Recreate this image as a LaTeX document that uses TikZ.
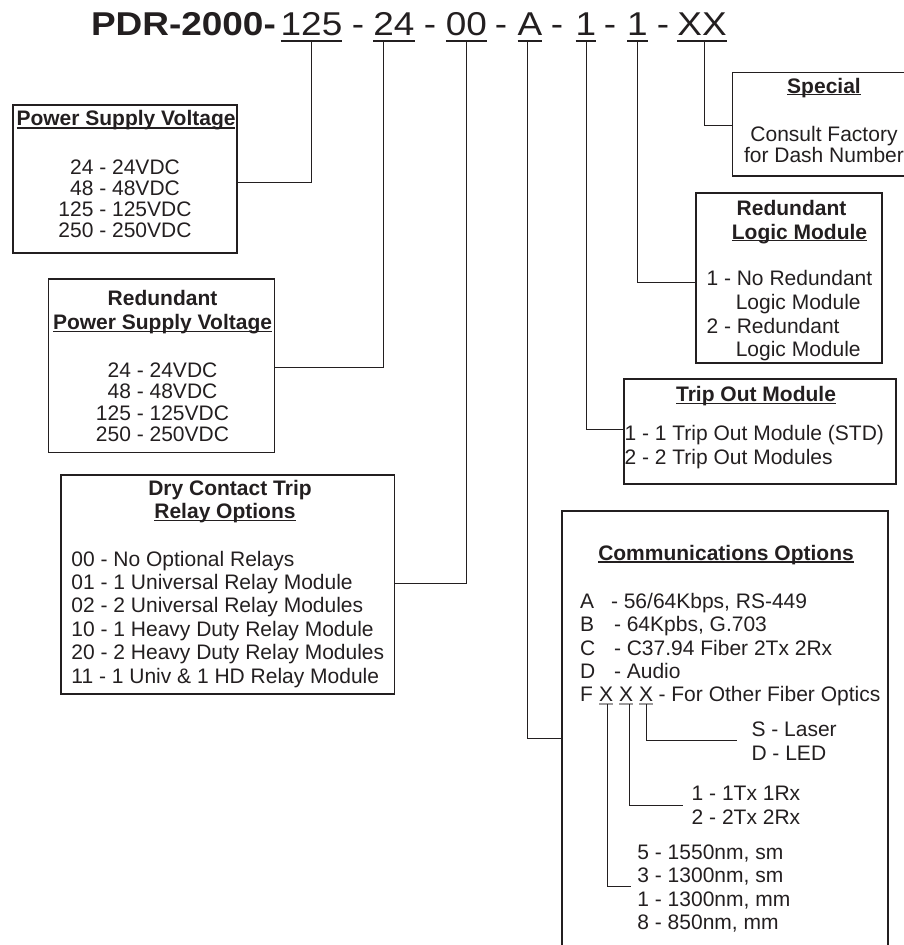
\documentclass[tikz,border=0pt]{standalone}
\usepackage{fontspec}
\setmainfont{Liberation Sans}
\definecolor{ink}{RGB}{35,31,32}
\begin{document}
\begin{tikzpicture}[x=1pt,y=-1pt,
  every node/.style={inner sep=0pt, outer sep=0pt, text=ink, font=\fontsize{21}{24}\selectfont},
  box/.style={draw=ink, line width=1.2pt, rectangle},
  conn/.style={draw=ink, line width=1pt},
  hd/.style={font=\fontsize{21}{24}\selectfont\bfseries, anchor=base},
  ln/.style={anchor=base west},
  cl/.style={anchor=base},
  ttl/.style={font=\fontsize{33}{36}\selectfont, anchor=base},
  tul/.style={draw=ink, line width=2pt},
  hul/.style={draw=ink, line width=1.3pt},
  xul/.style={draw=ink!45, line width=1.2pt}
]
\useasboundingbox (0,0) rectangle (904,945);

% ---------- title ----------
\node[font=\fontsize{33}{36}\selectfont\bfseries, anchor=base west] (tpdr) at (91,35) {\scalebox{1.12}[1]{PDR-2000-}};
\node[ttl] (t125) at (311.5,35) {\scalebox{1.12}[1]{125}};
\node[ttl] (d1)   at (358,35)   {\scalebox{1.12}[1]{-}};
\node[ttl] (t24)  at (394,35)   {\scalebox{1.12}[1]{24}};
\node[ttl] (d2)   at (430,35)   {\scalebox{1.12}[1]{-}};
\node[ttl] (t00)  at (466.5,35) {\scalebox{1.12}[1]{00}};
\node[ttl] (d3)   at (501,35)   {\scalebox{1.12}[1]{-}};
\node[ttl] (tA)   at (530,35)   {\scalebox{1.12}[1]{A}};
\node[ttl] (d4)   at (557,35)   {\scalebox{1.12}[1]{-}};
\node[ttl] (t1a)  at (586,35)   {\scalebox{1.12}[1]{1}};
\node[ttl] (d5)   at (610,35)   {\scalebox{1.12}[1]{-}};
\node[ttl] (t1b)  at (637.5,35) {\scalebox{1.12}[1]{1}};
\node[ttl] (d6)   at (663,35)   {\scalebox{1.12}[1]{-}};
\node[ttl] (tXX)  at (702,35)   {\scalebox{1.12}[1]{XX}};
\foreach \n in {t125,t24,t00,tA,t1a,t1b,tXX}
  \draw[tul] ([yshift=-6pt]\n.base west) -- ([yshift=-6pt]\n.base east);

% ---------- boxes ----------
\node[box, minimum width=224pt, minimum height=148pt] (psv) at (125,179) {};
\node[box, minimum width=226pt, minimum height=173.7pt] (rpsv) at (161.3,365.85) {};
\node[box, minimum width=333.5pt, minimum height=219pt] (dry) at (227.75,584.5) {};
\node[box, minimum width=187.3pt, minimum height=103.3pt] (spec) at (826.35,124.35) {};
\node[box, minimum width=186pt, minimum height=170pt] (logic) at (789,278) {};
\node[box, minimum width=272pt, minimum height=105pt] (trip) at (760,431.5) {};
\node[box, minimum width=326pt, minimum height=454pt] (comm) at (725,738) {};

% ---------- connectors from code ----------
\draw[conn] ([yshift=-6pt]t125.base) |- ([yshift=-3.7pt]psv.east);
\draw[conn] ([xshift=-11pt,yshift=-6pt]t24.base) |- ([yshift=-1.85pt]rpsv.east);
\draw[conn] ([xshift=-0.5pt,yshift=-6pt]t00.base) |- ([yshift=1.5pt]dry.east);
\draw[conn] ([xshift=-3pt,yshift=-6pt]tA.base) |- (comm.west);
\draw[conn] ([yshift=-6pt]t1a.base) |- ([yshift=2.5pt]trip.west);
\draw[conn] ([xshift=-0.5pt,yshift=-6pt]t1b.base) |- ([yshift=-4pt]logic.west);
\draw[conn] ([xshift=2pt,yshift=-6pt]tXX.base) |- ([yshift=-0.65pt]spec.west);

% ---------- Power Supply Voltage ----------
\node[hd] (psvh) at (126,125.7) {Power Supply Voltage};
\draw[hul] ([yshift=-2.3pt]psvh.base west) -- ([yshift=-2.3pt]psvh.base east);
\foreach \t [count=\i] in {24 - 24VDC, 48 - 48VDC, 125 - 125VDC, 250 - 250VDC}
  \node[cl] (psv\i) at (125,{174+21*(\i-1)}) {\t};

% ---------- Redundant Power Supply Voltage ----------
\node[hd] (rpsvh1) at (162.5,305.7) {Redundant};
\node[hd] (rpsvh2) at (162.5,329.3) {Power Supply Voltage};
\draw[hul] ([yshift=-2pt]rpsvh2.base west) -- ([yshift=-2pt]rpsvh2.base east);
\foreach \t [count=\i] in {24 - 24VDC, 48 - 48VDC, 125 - 125VDC, 250 - 250VDC}
  \node[cl] (rpsv\i) at (162.5,{377.3+21.4*(\i-1)}) {\t};

% ---------- Dry Contact ----------
\node[hd] (dryh1) at (230,495) {Dry Contact Trip};
\node[hd] (dryh2) at (225,518.3) {Relay Options};
\draw[hul] ([yshift=-2pt]dryh2.base west) -- ([yshift=-2pt]dryh2.base east);
\foreach \t [count=\i] in {00 - No Optional Relays, 01 - 1 Universal Relay Module, 02 - 2 Universal Relay Modules, 10 - 1 Heavy Duty Relay Module, 20 - 2 Heavy Duty Relay Modules, 11 - 1 Univ \& 1 HD Relay Module}
  \node[ln] (dry\i) at (71.4,{566+23.45*(\i-1)}) {\t};

% ---------- Special ----------
\node[hd] (spech) at (824,93.3) {Special};
\draw[hul] ([yshift=-1.5pt]spech.base west) -- ([yshift=-1.5pt]spech.base east);
\node[cl] (spec1) at (824,141.7) {Consult Factory};
\node[cl] (spec2) at (824,162.7) {for Dash Number};

% ---------- Redundant Logic Module ----------
\node[hd] (logh1) at (791.5,215.7) {Redundant};
\node[hd] (logh2) at (799.5,239) {Logic Module};
\draw[hul] ([yshift=-1.5pt]logh2.base west) -- ([yshift=-1.5pt]logh2.base east);
\node[ln] (log1) at (706.5,285) {1 - No Redundant};
\node[ln] (log2) at (735.8,309.3) {Logic Module};
\node[ln] (log3) at (706.5,333.3) {2 - Redundant};
\node[ln] (log4) at (735.8,356.7) {Logic Module};

% ---------- Trip Out Module ----------
\node[hd] (triph) at (756,401.7) {Trip Out Module};
\draw[hul] ([yshift=-1.5pt]triph.base west) -- ([yshift=-1.5pt]triph.base east);
\node[ln] (trip1) at (624.5,440) {1 - 1 Trip Out Module (STD)};
\node[ln] (trip2) at (624.5,464) {2 - 2 Trip Out Modules};

% ---------- Communications Options ----------
\node[hd] (commh) at (726,560) {Communications Options};
\draw[hul] ([yshift=-2pt]commh.base west) -- ([yshift=-2pt]commh.base east);
\node[ln] (cA) at (580,608.3) {A};
\node[ln] (cAt) at (611,608.3) {- 56/64Kbps, RS-449};
\node[ln] (cB) at (580,631.7) {B};
\node[ln] (cBt) at (614,631.7) {- 64Kpbs, G.703};
\node[ln] (cC) at (580,655) {C};
\node[ln] (cCt) at (614,655) {- C37.94 Fiber 2Tx 2Rx};
\node[ln] (cD) at (580,678.3) {D};
\node[ln] (cDt) at (614,678.3) {- Audio};
\node[ln] (cF) at (580,701.7) {F};
\node[cl] (x1) at (606,701.7) {X};
\node[cl] (x2) at (626,701.7) {X};
\node[cl] (x3) at (646,701.7) {X};
\node[ln] (cFt) at (658.6,701.7) {- For Other Fiber Optics};
\foreach \n in {x1,x2,x3}
  \draw[xul] ([yshift=-2.3pt]\n.base west) -- ([yshift=-2.3pt]\n.base east);

\node[ln] (s1) at (751.5,736.7) {S - Laser};
\node[ln] (s2) at (751.5,760.7) {D - LED};
\node[ln] (m1) at (691.7,800) {1 - 1Tx 1Rx};
\node[ln] (m2) at (691.7,824) {2 - 2Tx 2Rx};
\foreach \t [count=\i] in {{5 - 1550nm, sm},{3 - 1300nm, sm},{1 - 1300nm, mm},{8 - 850nm, mm}}
  \node[ln] (w\i) at (637.4,{859+23.55*(\i-1)}) {\t};

\coordinate (e1) at (631,886);
\coordinate (e2) at (683,805);
\coordinate (e3) at (737,740);
\draw[conn] ([xshift=1pt,yshift=-2.3pt]x1.base) |- (e1);
\draw[conn] ([xshift=3pt,yshift=-2.3pt]x2.base) |- (e2);
\draw[conn] ([xshift=0.7pt,yshift=-2.3pt]x3.base) |- (e3);
\end{tikzpicture}
\end{document}
